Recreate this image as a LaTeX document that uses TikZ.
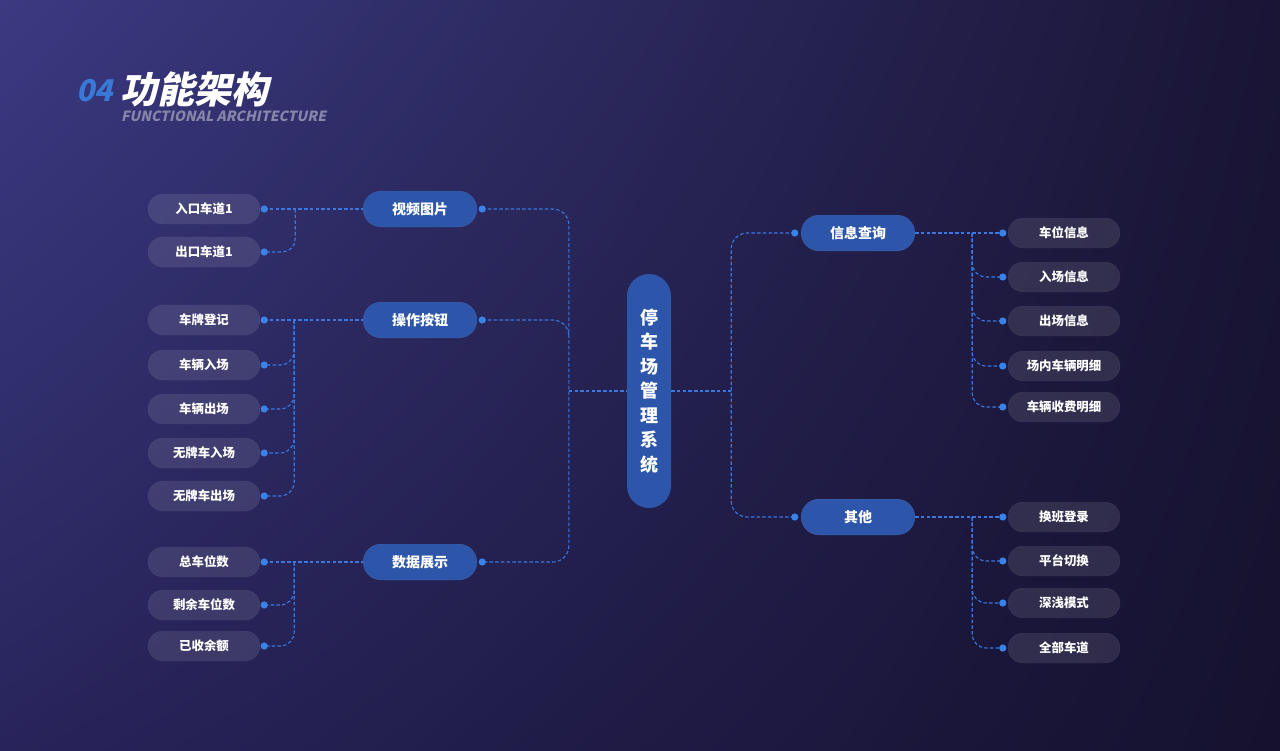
\documentclass[tikz,border=0pt]{standalone}
\usepackage{fontspec}
\setmainfont{Noto Sans CJK SC}
\newfontfamily\titlefont{Noto Sans CJK SC}[FakeSlant=0.22]
\usetikzlibrary{calc,shadings}
\definecolor{bgUL}{HTML}{3B3A82}
\definecolor{bgUR}{HTML}{1A1535}
\definecolor{bgLL}{HTML}{28245B}
\definecolor{bgLR}{HTML}{15112E}
\definecolor{hubblue}{HTML}{2D55A9}
\definecolor{linkblue}{HTML}{3A78E0}
\definecolor{dotblue}{HTML}{3A82E6}
\definecolor{numblue}{HTML}{3A78D6}
\definecolor{subgray}{HTML}{8686AA}
\def\bluedot(#1){\fill[dotblue] (#1) circle (3.6);}

\begin{document}
\begin{tikzpicture}[x=1pt, y=-1pt,
	leaf/.style={fill=white, fill opacity=0.1, draw=white, draw opacity=0.07, text opacity=1, text=white, rounded corners=15pt, minimum width=112pt, minimum height=30pt, inner sep=0pt, font=\bfseries\fontsize{12.4}{14}\selectfont},
	hub/.style={fill=hubblue, draw=white, draw opacity=0.08, text=white, rounded corners=18pt, minimum width=114pt, minimum height=36pt, inner sep=0pt, font=\bfseries\fontsize{14}{16}\selectfont},
	link/.style={draw=linkblue, line width=1.1pt, dash pattern=on 3.5pt off 2.2pt}]
			%%%%% START %%%%%
			
			\useasboundingbox (0,0) rectangle (1280,750);
			\shade[upper left=bgUL, upper right=bgUR, lower left=bgLL, lower right=bgLR] (0,0) rectangle (1280,750);
			
			% title
			\node[anchor=base west, inner sep=0pt, text=numblue, font=\titlefont\bfseries\fontsize{30}{30}\selectfont] (num) at (76,101) {04};
			\node[anchor=base west, inner sep=0pt, text=white, font=\titlefont\bfseries\fontsize{37}{37}\selectfont] (title) at (120,103) {功能架构};
			\node[anchor=base west, inner sep=0pt, text=subgray, font=\titlefont\bfseries\fontsize{14}{15}\selectfont] (sub) at (121,121) {FUNCTIONAL ARCHITECTURE};
			
			% center
			\node[fill=hubblue, text=white, rounded corners=22pt, minimum width=44pt, minimum height=234pt, inner sep=0pt, align=center, font=\bfseries\fontsize{18}{24.5}\selectfont] (sys) at (649,391) {停\\车\\场\\管\\理\\系\\统};
			
			% hubs
			\node[hub] (h1) at (420,209) {视频图片};
			\node[hub] (h2) at (420,320) {操作按钮};
			\node[hub] (h3) at (420,562) {数据展示};
			\node[hub] (h4) at (858,233) {信息查询};
			\node[hub] (h5) at (858,517) {其他};
			
			\foreach \n in {1,2,3} \coordinate (dh\n) at ($(h\n.east)+(5,0)$);
			\foreach \n in {4,5} \coordinate (dh\n) at ($(h\n.west)+(-6,0)$);
			
			% leaves
			\foreach \n/\y/\t in {1/209/入口车道1, 2/252/出口车道1, 3/320/车牌登记, 4/365/车辆入场, 5/409/车辆出场, 6/453/无牌车入场, 7/496/无牌车出场, 8/562/总车位数, 9/605/剩余车位数, 10/646/已收余额}{
				\node[leaf] (l\n) at (204,\y) {\t};
				\coordinate (dl\n) at ($(l\n.east)+(4,0)$);
			}
			\foreach \n/\y/\t in {1/233/车位信息, 2/277/入场信息, 3/321/出场信息, 4/366/场内车辆明细, 5/407/车辆收费明细, 6/517/换班登录, 7/561/平台切换, 8/603/深浅模式, 9/648/全部车道}{
				\node[leaf] (r\n) at (1064,\y) {\t};
				\coordinate (dr\n) at ($(r\n.west)+(-5,0)$);
			}
			
			% left links
			\coordinate (j1) at ($(dl1)+(31,0)$);
			\coordinate (j2) at ($(dl3)+(30,0)$);
			\coordinate (j3) at ($(dl8)+(30,0)$);
			\draw[link] (dl1) -- (h1.west);
			\draw[link, rounded corners=13pt] (j1) |- (dl2);
			\draw[link] (dl3) -- (h2.west);
			\foreach \k in {4,...,7} \draw[link, rounded corners=14pt] (j2) |- (dl\k);
			\draw[link] (dl8) -- (h3.west);
			\foreach \k in {9,10} \draw[link, rounded corners=14pt] (j3) |- (dl\k);
			
			% trunk
			\coordinate (tl) at ($(sys.west)+(-58,0)$);
			\coordinate (tm) at ($(tl)+(0,-54)$);
			\coordinate (tr) at ($(sys.east)+(60,0)$);
			\draw[link, rounded corners=16pt] (dh1) -| (tl) |- (dh3);
			\draw[link, rounded corners=16pt] (dh2) -| (tm);
			\draw[link] (tl) -- (sys.west);
			\draw[link] (sys.east) -- (tr);
			\draw[link, rounded corners=16pt] (dh4) -| (tr) |- (dh5);
			
			% right links
			\coordinate (j4) at ($(h4.east)+(57,0)$);
			\coordinate (j5) at ($(h5.east)+(57,0)$);
			\draw[link] (h4.east) -- (dr1);
			\foreach \k in {2,...,5} \draw[link, rounded corners=14pt] (j4) |- (dr\k);
			\draw[link] (h5.east) -- (dr6);
			\foreach \k in {7,8,9} \draw[link, rounded corners=14pt] (j5) |- (dr\k);
			
			% dots
			\foreach \n in {1,...,10} {\bluedot(dl\n)}
			\foreach \n in {1,...,9} {\bluedot(dr\n)}
			\foreach \n in {1,...,5} {\bluedot(dh\n)}
			
			%%%%% END %%%%%
\end{tikzpicture}
\end{document}
